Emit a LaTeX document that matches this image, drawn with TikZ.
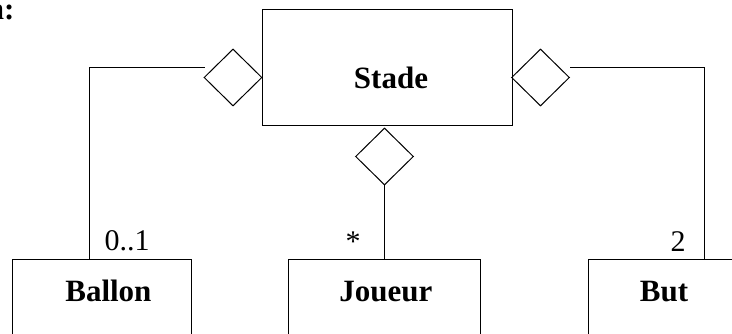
\documentclass[tikz,border=0pt]{standalone}
\usepackage{fontspec}
\setmainfont{Liberation Serif}
\usetikzlibrary{shapes.geometric}
\tikzset{
  umlbox/.style={draw, rectangle, inner sep=0pt},
  aggr/.style={draw, diamond, aspect=1, inner sep=0pt, minimum width=58pt, minimum height=57pt},
  bold/.style={inner sep=0pt, anchor=base, font=\fontsize{31}{33}\selectfont\bfseries},
  mult/.style={inner sep=0pt, anchor=base, font=\fontsize{30}{32}\selectfont},
}
\begin{document}
\begin{tikzpicture}[x=1pt,y=-1pt,line width=1pt]
\useasboundingbox (0,0) rectangle (732,334);
\begin{scope}
\clip (0,0) rectangle (732,334);
% top-left cut text
\node[bold, anchor=base east] (cut) at (15,20) {n:};
% main class
\node[umlbox, minimum width=250pt, minimum height=116pt] (stade) at (387,68) {};
\node[bold] (stadetxt) at (391,88.3) {Stade};
% diamonds
\node[aggr] (ldia) at (233,77.5) {};
\node[aggr] (rdia) at (540.5,77.5) {};
\node[aggr] (bdia) at (384.5,156.5) {};
% bottom classes (cut by the page edge)
\node[umlbox, minimum width=179pt, minimum height=100pt] (ballon) at (101.5,310) {};
\node[umlbox, minimum width=192pt, minimum height=100pt] (joueur) at (384,309.5) {};
\node[umlbox, minimum width=180pt, minimum height=100pt] (but) at (678,310) {};
\node[bold] (ballontxt) at (108.4,301.7) {Ballon};
\node[bold] (joueurtxt) at (385.8,301.5) {Joueur};
\node[bold] (buttxt) at (664,301.7) {But};
% connectors
\draw ([xshift=1pt,yshift=9.5pt]ldia.west) -| ([xshift=-12.5pt]ballon.north);
\draw ([xshift=0pt,yshift=9.5pt]rdia.east) -| ([xshift=26pt]but.north);
\draw (bdia.south) -- (bdia.south |- joueur.north);
% multiplicities
\node[mult] (m1) at (127,250.3) {0..1};
\node[mult] (m2) at (353,252) {*};
\node[mult] (m3) at (678,251.5) {2};
\end{scope}
\end{tikzpicture}
\end{document}
